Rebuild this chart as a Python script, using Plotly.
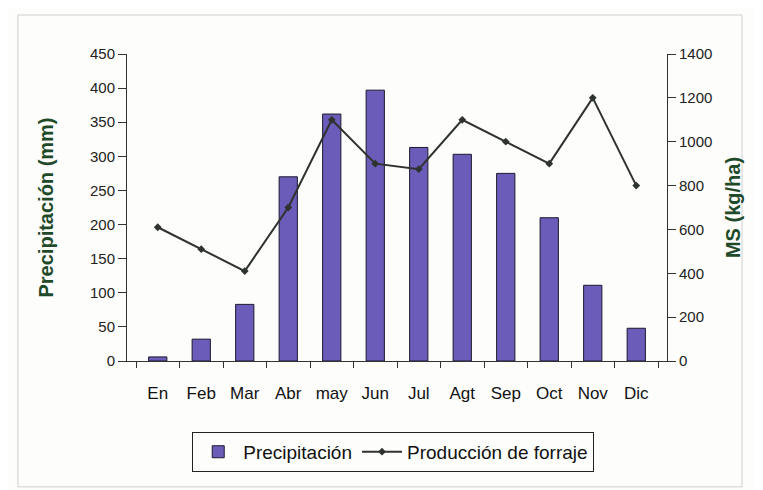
import plotly.graph_objects as go

months = ["En", "Feb", "Mar", "Abr", "may", "Jun", "Jul", "Agt", "Sep", "Oct", "Nov", "Dic"]
precipitacion = [6, 32, 83, 270, 362, 397, 313, 303, 275, 210, 111, 48]
forraje = [610, 510, 410, 700, 1100, 900, 875, 1100, 1000, 900, 1200, 800]

left_ticks = list(range(0, 451, 50))
right_ticks = list(range(0, 1401, 200))

fig = go.Figure()
fig.add_trace(go.Bar(
    x=months, y=precipitacion, name="Precipitación",
    marker=dict(color="#6a5cb8", line=dict(color="#1a1a2e", width=1)),
    width=0.42, yaxis="y"))
fig.add_trace(go.Scatter(
    x=months, y=forraje, name="Producción de forraje", mode="lines+markers",
    line=dict(color="#2f332f", width=2),
    marker=dict(symbol="diamond", size=6, color="#2f332f"),
    yaxis="y2"))

font_family = "Liberation Sans, Arial, sans-serif"
fig.update_layout(
    width=763, height=490,
    margin=dict(l=119, r=104, t=46, b=137),
    paper_bgcolor="#fdfdfb", plot_bgcolor="#fdfdfb",
    font=dict(family=font_family, color="#222"),
    showlegend=True,
    legend=dict(orientation="h", x=0.493, y=-0.296, xanchor="center", yanchor="middle",
                bordercolor="#222", borderwidth=1, bgcolor="#fdfdfb", itemwidth=40,
                font=dict(size=19, color="#111"), traceorder="normal"),
    xaxis=dict(type="category", showline=True, linecolor="#333", linewidth=1,
               ticks="outside", tickson="boundaries", ticklen=6, tickcolor="#333",
               ticklabelstandoff=17,
               tickfont=dict(size=17, color="#111"), showgrid=False),
    yaxis=dict(range=[0, 450], tickvals=left_ticks, showline=True, linecolor="#333",
               ticks="outside", ticklen=8, tickcolor="#333", showgrid=False, zeroline=False,
               tickfont=dict(size=15, color="#222"),
               title=dict(text="<b>Precipitación (mm)</b>", font=dict(size=20, color="#1f4a2a"), standoff=30)),
    yaxis2=dict(range=[0, 1400], tickvals=right_ticks, overlaying="y", side="right",
                showline=True, linecolor="#333", ticks="outside", ticklen=8, tickcolor="#333",
                showgrid=False, zeroline=False, tickfont=dict(size=15, color="#222"),
                title=dict(text="<b>MS (kg/ha)</b>", font=dict(size=20, color="#1f4a2a"), standoff=14)),
    bargap=0.5,
)
fig.add_shape(type="rect", xref="paper", yref="paper", x0=-0.202, x1=1.139, y0=-0.41, y1=1.127,
              line=dict(color="#cfcfcf", width=1), layer="below")
fig.write_html("out.html")
